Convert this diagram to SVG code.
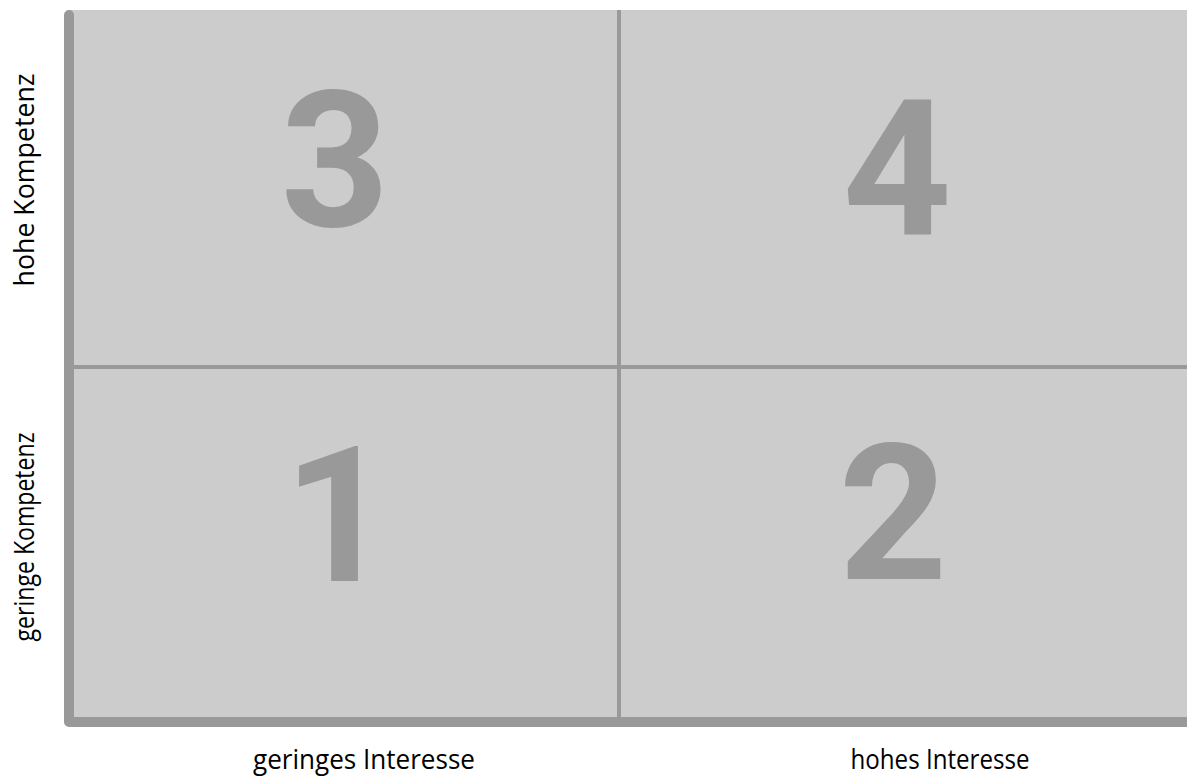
<svg xmlns="http://www.w3.org/2000/svg" width="1187" height="778" viewBox="0 0 1187 778">
<style>
.num{font-family:"Roboto","Liberation Sans",sans-serif;font-weight:bold;font-size:190px;fill:#999999;text-anchor:middle}
.lbl{font-family:"Open Sans","Liberation Sans",sans-serif;font-size:27px;fill:#000000;text-anchor:middle}
.div{stroke:#999999;stroke-width:4;fill:none}
.axis{stroke:#999999;stroke-width:10;fill:none;stroke-linecap:round;stroke-linejoin:round}
</style>
<rect x="69" y="10" width="1118" height="712" fill="#cccccc"/>
<g id="connectors">
<line class="div" x1="619" y1="10" x2="619" y2="718"/>
<line class="div" x1="69" y1="367" x2="1187" y2="367"/>
<path class="axis" d="M69,15 L69,722 L1192,722"/>
</g>
<g id="q3"><text class="num" x="335" y="226">3</text></g>
<g id="q4"><text class="num" x="897" y="234">4</text></g>
<g id="q1"><text class="num" x="338" y="581">1</text></g>
<g id="q2"><text class="num" x="893" y="579">2</text></g>
<g id="label-hohe-kompetenz"><text class="lbl" transform="translate(34,180) rotate(-90)" textLength="213" lengthAdjust="spacingAndGlyphs">hohe Kompetenz</text></g>
<g id="label-geringe-kompetenz"><text class="lbl" transform="translate(34,537) rotate(-90)" textLength="209" lengthAdjust="spacingAndGlyphs">geringe Kompetenz</text></g>
<g id="label-geringes-interesse"><text class="lbl" x="364" y="769" textLength="222" lengthAdjust="spacingAndGlyphs">geringes Interesse</text></g>
<g id="label-hohes-interesse"><text class="lbl" x="940" y="769" textLength="179" lengthAdjust="spacingAndGlyphs">hohes Interesse</text></g>
</svg>
